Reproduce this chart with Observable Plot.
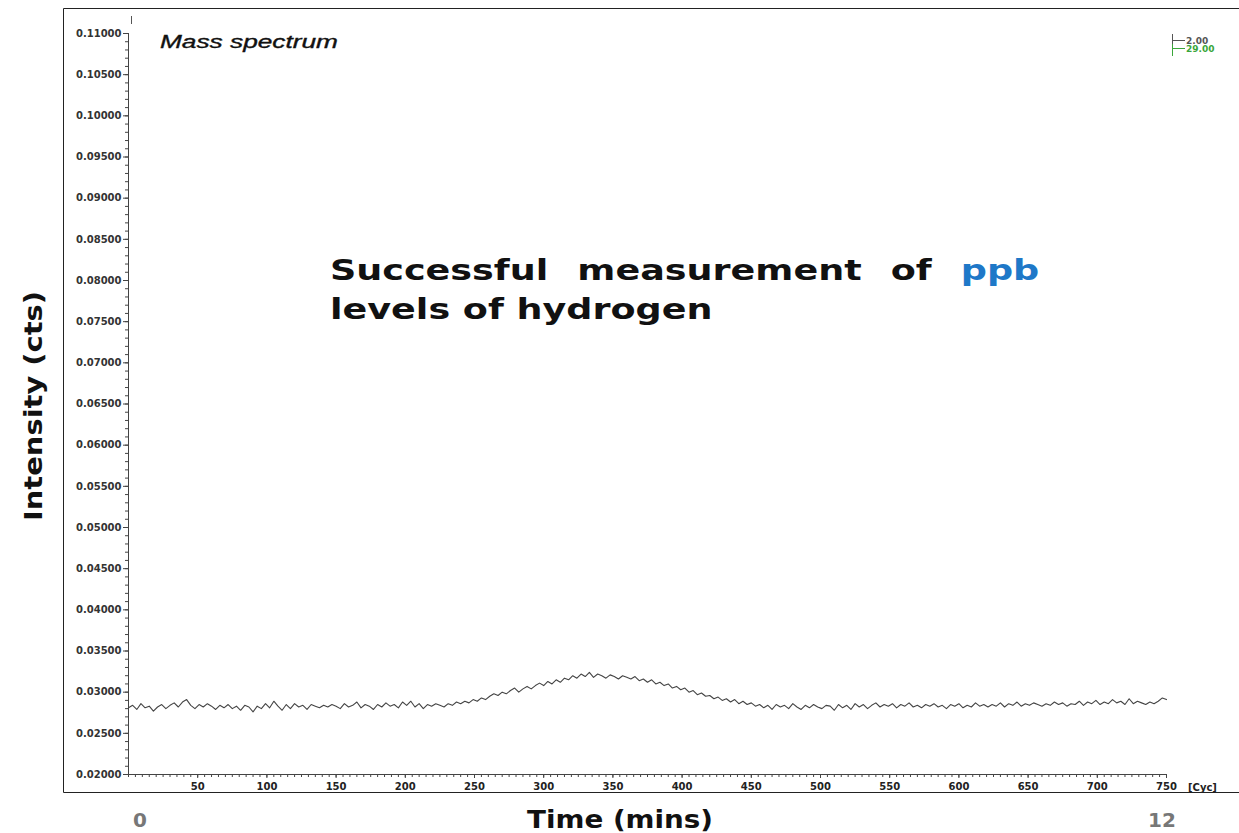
<!DOCTYPE html>
<html>
<head>
<meta charset="utf-8">
<script src="https://cdn.jsdelivr.net/npm/d3@7"></script>
<script src="https://cdn.jsdelivr.net/npm/@observablehq/plot@0.6"></script>
<style>
  html, body { margin: 0; padding: 0; background: #fff; }
  #chart { position: relative; width: 1239px; height: 833px; overflow: hidden; }
</style>
</head>
<body>
<div id="chart"></div>
<script>
// ---- data ----
const cycleStep = 3; // one sample every 3 cycles, starting at cycle 0
const intensity = [
  0.0281,0.0284,0.0279,0.0286,0.0281,0.0283,0.0277,0.0282,0.0285,0.0280,
  0.0284,0.0287,0.0282,0.0288,0.0291,0.0284,0.0280,0.0285,0.0282,0.0286,
  0.0283,0.0279,0.0284,0.0281,0.0285,0.0280,0.0283,0.0278,0.0284,0.0282,
  0.0276,0.0283,0.0280,0.0286,0.0281,0.0289,0.0283,0.0278,0.0285,0.0280,
  0.0286,0.0282,0.0284,0.0279,0.0285,0.0283,0.0281,0.0284,0.0282,0.0285,
  0.0283,0.0280,0.0286,0.0282,0.0284,0.0288,0.0281,0.0285,0.0283,0.0279,
  0.0285,0.0282,0.0287,0.0283,0.0285,0.0281,0.0288,0.0284,0.0289,0.0282,
  0.0286,0.0280,0.0285,0.0283,0.0286,0.0284,0.0282,
  0.0286,0.0284,0.0288,0.0286,0.0289,0.0287,0.0291,0.0289,0.0293,0.0291,
  0.0295,0.0298,0.0296,0.0300,0.0298,0.0302,0.0305,0.0300,0.0304,0.0307,
  0.0304,0.0308,0.0311,0.0308,0.0313,0.0310,0.0315,0.0312,0.0317,0.0315,
  0.0320,0.0317,0.0322,0.0319,0.0324,0.0318,0.0322,0.0320,0.0317,0.0321,
  0.0319,0.0316,0.0320,0.0318,
  0.0316,0.0319,0.0314,0.0316,0.0312,0.0315,0.0310,0.0312,0.0308,0.0310,
  0.0305,0.0307,0.0303,0.0305,0.0300,0.0302,0.0297,0.0299,0.0295,0.0296,
  0.0292,0.0294,0.0290,0.0292,0.0288,0.0291,0.0286,0.0289,0.0285,0.0287,
  0.0283,0.0285,0.0281,0.0284,0.0279,0.0285,0.0282,0.0284,0.0280,0.0286,
  0.0282,0.0279,0.0284,0.0281,0.0285,0.0282,0.0280,0.0284,0.0283,0.0278,
  0.0285,0.0281,0.0284,0.0279,0.0286,0.0282,0.0285,0.0280,0.0284,0.0287,
  0.0282,0.0285,0.0283,0.0286,0.0281,0.0285,0.0283,0.0287,0.0282,0.0284,
  0.0281,0.0285,0.0283,0.0286,0.0282,0.0284,0.0280,0.0285,0.0283,0.0286,
  0.0281,0.0284,0.0282,0.0287,0.0283,0.0285,0.0282,
  0.0285,0.0283,0.0287,0.0282,0.0286,0.0284,0.0288,0.0283,0.0286,0.0284,
  0.0287,0.0285,0.0283,0.0286,0.0284,0.0288,0.0285,0.0287,0.0283,0.0286,
  0.0285,0.0289,0.0284,0.0288,0.0286,0.0290,0.0285,0.0288,0.0286,0.0291,
  0.0287,0.0289,0.0285,0.0292,0.0286,0.0289,0.0287,0.0285,0.0288,0.0286,
  0.0289,0.0293,0.0291
];
const xTickValues = [50,100,150,200,250,300,350,400,450,500,550,600,650,700,750];
const yTickValues = [0.020,0.025,0.030,0.035,0.040,0.045,0.050,0.055,0.060,0.065,0.070,0.075,0.080,0.085,0.090,0.095,0.100,0.105,0.110];
const legendLabels = ["2.00", "29.00"];
const legendColors = ["#555555", "#3aa63a"];
const chartTitle = "Mass spectrum";
const annotationLine1 = "Successful measurement of ";
const annotationHighlight = "ppb";
const annotationLine2 = "levels of hydrogen";
const yTitle = "Intensity (cts)";
const xTitle = "Time (mins)";
const xUnit = "[Cyc]";
const timeStart = "0";
const timeEnd = "12";

const data = intensity.map((v, i) => ({cycle: i * cycleStep, value: v}));
const xMinor = d3.range(0, 751, 5);
const yMinor = d3.range(20, 111, 1).map(d => d / 1000);

const tickFont = {fontSize: 10, fontWeight: "bold", fontFamily: "DejaVu Sans, sans-serif"};

const plot = Plot.plot({
  width: 1239,
  height: 833,
  marginLeft: 128,
  marginRight: 73,
  marginTop: 33,
  marginBottom: 59,
  style: {fontFamily: "DejaVu Sans, sans-serif", color: "#333", background: "transparent"},
  x: {domain: [0, 750], label: null},
  y: {domain: [0.02, 0.11], label: null},
  marks: [
    Plot.axisY(yMinor, {tickSize: 3, text: null, label: null, stroke: "#444"}),
    Plot.axisY(yTickValues, {tickSize: 5, tickPadding: 2, tickFormat: d3.format(".5f"), label: null, stroke: "#444", fill: "#333", ...tickFont}),
    Plot.axisX(xMinor, {tickSize: 3, text: null, label: null, stroke: "#444"}),
    Plot.axisX(xTickValues, {tickSize: 4, tickPadding: 4, tickFormat: d => String(d), label: null, stroke: "#444", fill: "#222", ...tickFont}),
    Plot.ruleX([0], {stroke: "#444"}),
    Plot.ruleY([0.02], {stroke: "#444"}),
    Plot.line(data, {x: "cycle", y: "value", stroke: "#444", strokeWidth: 1.1})
  ]
});

document.getElementById("chart").appendChild(plot);

// ---- decorations and annotations (real text) ----
const svg = d3.select(plot);
const g = svg.append("g").attr("class", "decor").attr("text-anchor", "start");

// outer frame (left, top, bottom)
g.append("path")
  .attr("d", "M1240,8.5 H63.5 V792.5 H1240")
  .attr("fill", "none").attr("stroke", "#222").attr("stroke-width", 1);

// small marker at top of the y axis
g.append("line").attr("x1", 131.5).attr("x2", 131.5).attr("y1", 16).attr("y2", 24).attr("stroke", "#555");

// title inside plot
g.append("text").text(chartTitle)
  .attr("x", 160).attr("y", 48).attr("text-anchor", "start")
  .attr("font-family", "Liberation Sans, Arial, sans-serif")
  .attr("font-style", "italic").attr("font-size", 18)
  .attr("textLength", 178).attr("lengthAdjust", "spacingAndGlyphs")
  .attr("stroke", "#111").attr("stroke-width", 0.35)
  .attr("fill", "#111");

// legend top-right
const lg = g.append("g");
lg.append("line").attr("x1", 1172.5).attr("x2", 1172.5).attr("y1", 34).attr("y2", 44).attr("stroke", legendColors[0]);
lg.append("line").attr("x1", 1172.5).attr("x2", 1172.5).attr("y1", 44).attr("y2", 56).attr("stroke", legendColors[1]);
legendLabels.forEach((lab, i) => {
  const y = 40.5 + i * 8;
  lg.append("line").attr("x1", 1172).attr("x2", 1185).attr("y1", y).attr("y2", y).attr("stroke", legendColors[i]);
  lg.append("text").text(lab).attr("x", 1186).attr("y", y + 3.5).attr("text-anchor", "start")
    .attr("font-family", "DejaVu Sans, sans-serif").attr("font-weight", "bold").attr("font-size", 9)
    .attr("fill", legendColors[i]);
});

// annotation (horizontally stretched like the reference)
const annFont = "DejaVu Sans, Verdana, sans-serif";
const ann = g.append("g").attr("transform", "translate(330,0) scale(1.26,1)")
  .attr("font-family", annFont).attr("font-weight", "bold").attr("font-size", 29).attr("fill", "#111");
const line1 = ann.append("text").attr("x", 0).attr("y", 280).attr("text-anchor", "start")
  .attr("word-spacing", 13).attr("xml:space", "preserve");
line1.append("tspan").text(annotationLine1);
line1.append("tspan").attr("fill", "#1e78c8").text(annotationHighlight);
ann.append("text").text(annotationLine2).attr("x", 0).attr("y", 319).attr("text-anchor", "start");

// axis titles
g.append("text").text(yTitle)
  .attr("transform", "translate(42,406) rotate(-90)")
  .attr("text-anchor", "middle")
  .attr("font-family", annFont).attr("font-weight", "bold").attr("font-size", 25)
  .attr("textLength", 230).attr("lengthAdjust", "spacingAndGlyphs")
  .attr("fill", "#111");
g.append("text").text(xTitle)
  .attr("x", 620).attr("y", 828).attr("text-anchor", "middle")
  .attr("font-family", annFont).attr("font-weight", "bold").attr("font-size", 24)
  .attr("textLength", 186).attr("lengthAdjust", "spacingAndGlyphs")
  .attr("fill", "#111");
g.append("text").text(timeStart)
  .attr("x", 140).attr("y", 827).attr("text-anchor", "middle")
  .attr("font-family", annFont).attr("font-weight", "bold").attr("font-size", 20)
  .attr("fill", "#777");
g.append("text").text(timeEnd)
  .attr("x", 1162).attr("y", 827).attr("text-anchor", "middle")
  .attr("font-family", annFont).attr("font-weight", "bold").attr("font-size", 20)
  .attr("fill", "#777");
g.append("text").text(xUnit)
  .attr("x", 1188).attr("y", 791).attr("text-anchor", "start")
  .attr("font-family", "DejaVu Sans, sans-serif").attr("font-weight", "bold").attr("font-size", 10)
  .attr("fill", "#222");
</script>
</body>
</html>
